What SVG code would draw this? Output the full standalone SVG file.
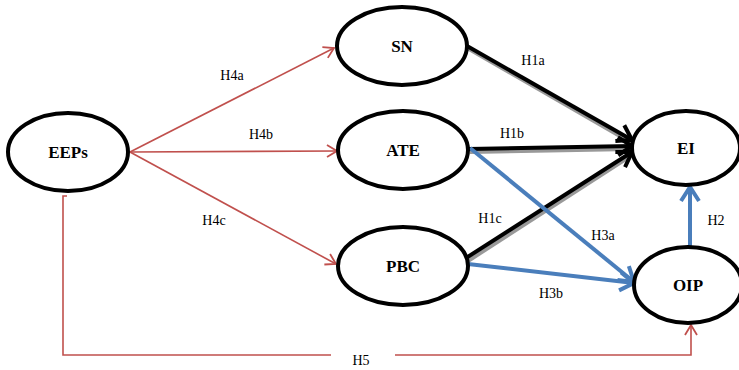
<svg xmlns="http://www.w3.org/2000/svg" width="739" height="370" viewBox="0 0 739 370">
<style>
.node ellipse{fill:#fff;stroke:#000;stroke-width:4}
.node text{font-family:"Liberation Serif",serif;font-weight:bold;font-size:17px;text-anchor:middle}
.lbl{font-family:"Liberation Serif",serif;font-size:14px;fill:#000;text-anchor:middle}
.red{stroke:#C0504D;stroke-width:1.6;fill:none}
.blk{stroke:#000;stroke-width:4;fill:none}
.shd{stroke:#999;stroke-width:4;fill:none}
.blu{stroke:#4A7EBB;stroke-width:4;fill:none}
</style>
<defs>
<marker id="ar" markerUnits="userSpaceOnUse" markerWidth="16" markerHeight="16" refX="12" refY="8" orient="auto"><path d="M2,2 L12,8 L2,14" fill="none" stroke="#C0504D" stroke-width="1.8"/></marker>
<marker id="ak" markerUnits="userSpaceOnUse" markerWidth="24" markerHeight="24" refX="18" refY="12" orient="auto"><path d="M4,3 L18,12 L4,21" fill="none" stroke="#000" stroke-width="4"/></marker>
<marker id="ab" markerUnits="userSpaceOnUse" markerWidth="24" markerHeight="24" refX="18" refY="12" orient="auto"><path d="M4,3 L18,12 L4,21" fill="none" stroke="#4A7EBB" stroke-width="4"/></marker>
</defs>
<g id="connectors">
<line class="red" x1="130" y1="152" x2="334" y2="48" marker-end="url(#ar)"/>
<line class="red" x1="130" y1="152" x2="337" y2="151" marker-end="url(#ar)"/>
<line class="red" x1="130" y1="152" x2="336" y2="264" marker-end="url(#ar)"/>
<polyline class="red" points="67,196 63,196 63,355 331,355"/>
<polyline class="red" points="395,355 691,355 691,325" marker-end="url(#ar)"/>
<line class="shd" x1="469" y1="49" x2="632" y2="143"/>
<line class="shd" x1="470" y1="152" x2="632" y2="149"/>
<line class="shd" x1="468" y1="261" x2="632" y2="155"/>
<line class="blk" x1="467" y1="46" x2="632" y2="140" marker-end="url(#ak)"/>
<line class="blk" x1="468" y1="149" x2="632" y2="146" marker-end="url(#ak)"/>
<line class="blk" x1="466" y1="258" x2="632" y2="152" marker-end="url(#ak)"/>
<line class="blu" x1="470" y1="148" x2="634" y2="282" marker-end="url(#ab)"/>
<line class="blu" x1="468" y1="264" x2="634" y2="283" marker-end="url(#ab)"/>
<line class="blu" x1="690" y1="246" x2="690" y2="187" marker-end="url(#ab)"/>
<text class="lbl" x="232" y="80">H4a</text>
<text class="lbl" x="261" y="139">H4b</text>
<text class="lbl" x="214" y="225">H4c</text>
<text class="lbl" x="533" y="65">H1a</text>
<text class="lbl" x="512" y="138">H1b</text>
<text class="lbl" x="490" y="223">H1c</text>
<text class="lbl" x="603" y="240">H3a</text>
<text class="lbl" x="551" y="298">H3b</text>
<text class="lbl" x="716" y="225">H2</text>
<text class="lbl" x="361" y="365">H5</text>
</g>
<g id="EEPs" class="node"><ellipse cx="68" cy="152" rx="60" ry="39"/><text x="68" y="158">EEPs</text></g>
<g id="SN" class="node"><ellipse cx="402" cy="46" rx="65" ry="39"/><text x="402" y="52">SN</text></g>
<g id="ATE" class="node"><ellipse cx="403" cy="150" rx="65" ry="39"/><text x="403" y="156">ATE</text></g>
<g id="PBC" class="node"><ellipse cx="403" cy="266" rx="65" ry="39"/><text x="403" y="272">PBC</text></g>
<g id="EI" class="node"><ellipse cx="686" cy="148" rx="54" ry="37"/><text x="686" y="154">EI</text></g>
<g id="OIP" class="node"><ellipse cx="688" cy="285" rx="54" ry="38"/><text x="688" y="291">OIP</text></g>
</svg>
